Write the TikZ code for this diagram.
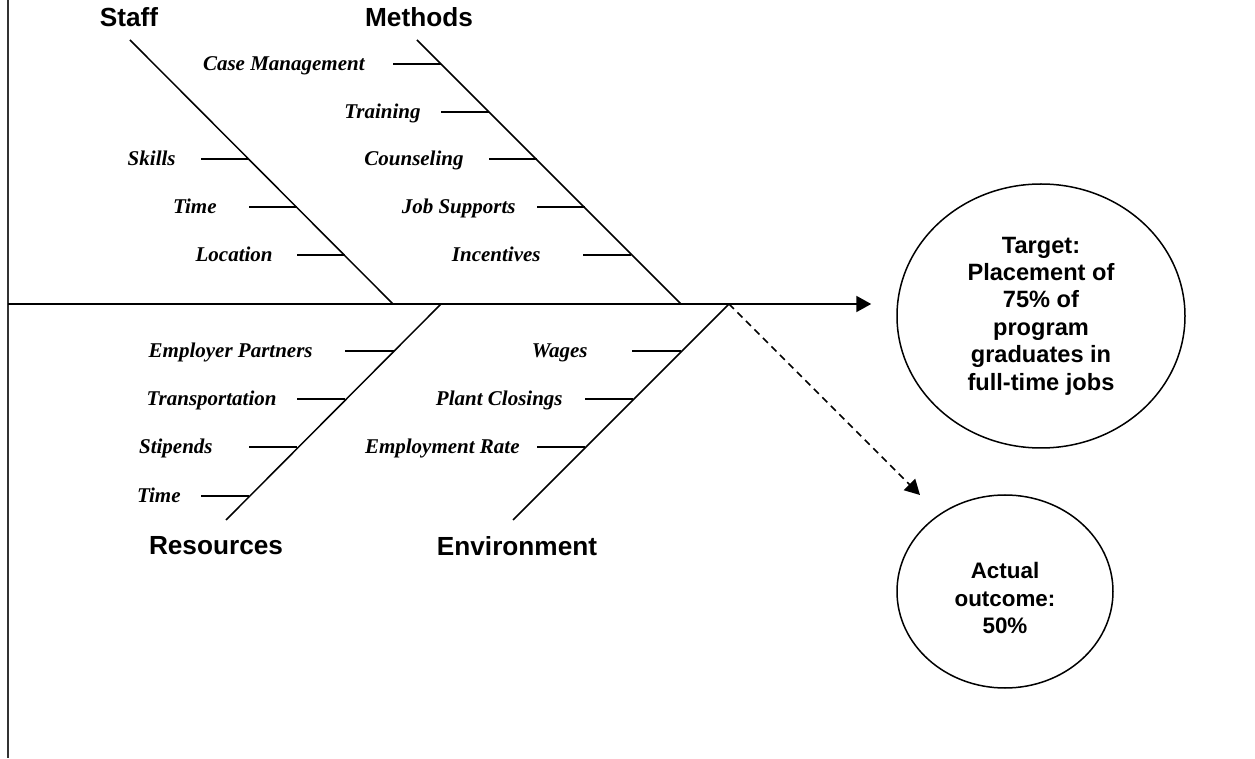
\documentclass[tikz,border=0pt]{standalone}
\usepackage{fontspec}
\setmainfont{Liberation Serif}
\setsansfont{Liberation Sans}
\usetikzlibrary{arrows.meta,shapes.geometric}
\tikzset{
	bone/.style={line width=0.75pt},
	rib/.style={line width=0.8pt},
	cause/.style={anchor=mid east, inner sep=0pt, yshift=-1.1pt, font=\fontsize{10.5}{13}\selectfont\bfseries\itshape},
	category/.style={inner sep=0pt, font=\sffamily\bfseries\fontsize{13.1}{15}\selectfont},
	outcome/.style={ellipse, draw, line width=0.75pt, inner sep=0pt, align=center, font=\sffamily\bfseries\fontsize{11.8}{13.7}\selectfont},
	tip/.style={-{Triangle[length=7.5pt,width=8pt]}}
}

\begin{document}
\begin{tikzpicture}[x=0.5pt, y=-0.5pt]
			%%%%% START %%%%%
			\useasboundingbox (0,0) rectangle (1255,759);
			
			\draw[line width=1.3pt, color=black!80] (8,0) -- (8,758);
			
			% head and spine
			\node[outcome, minimum width=144pt, minimum height=132pt] (target) at (1041,316) {Target:\\Placement of\\75\% of\\program\\graduates in\\full-time jobs};
			\node[outcome, minimum width=108pt, minimum height=96.5pt, font=\sffamily\bfseries\fontsize{11.2}{13.7}\selectfont] (actual) at (1005,591.5) {\rule{0pt}{15pt}Actual\\outcome:\\50\%};
			\coordinate (tail) at (8,304);
			\coordinate (head) at (729,304);
			\coordinate (miss) at (920,495);
			\draw[line width=1pt, tip] (tail) -- ([xshift=-12.5pt]target.west |- tail);
			\draw[line width=0.75pt, dash pattern=on 3.5pt off 2.5pt, tip] (head) -- (miss);
			
			% bones
			\coordinate (staffTop) at (130,40);
			\coordinate (staffEnd) at (393,304);
			\coordinate (methodsTop) at (417,40);
			\coordinate (methodsEnd) at (681,304);
			\coordinate (resourcesEnd) at (441,304);
			\coordinate (resourcesTop) at (226,520);
			\coordinate (environmentTop) at (513,520);
			\draw[bone] (staffTop) -- (staffEnd);
			\draw[bone] (methodsTop) -- (methodsEnd);
			\draw[bone] (resourcesEnd) -- (resourcesTop);
			\draw[bone] (head) -- (environmentTop);
			
			\node[category] (staff) at (129,17) {Staff};
			\node[category] (methods) at (419,17) {Methods};
			\node[category] (resources) at (216,546) {Resources};
			\node[category] (environment) at (517,546) {Environment};
			
			% staff
			\node[cause] (skills) at (176,159) {Skills};
			\draw[rib] (201,159) -- (249,159);
			\node[cause] (stafftime) at (217,207) {Time};
			\draw[rib] (249,207) -- (297,207);
			\node[cause] (location) at (273,255) {Location};
			\draw[rib] (297,255) -- (345,255);
			
			% methods
			\node[cause] (casemgmt) at (365,64) {Case Management};
			\draw[rib] (393,64) -- (441,64);
			\node[cause] (training) at (421,112) {Training};
			\draw[rib] (441,112) -- (489,112);
			\node[cause] (counseling) at (464,159) {Counseling};
			\draw[rib] (489,159) -- (537,159);
			\node[cause] (jobsupports) at (516,207) {Job Supports};
			\draw[rib] (537,207) -- (585,207);
			\node[cause] (incentives) at (541,255) {Incentives};
			\draw[rib] (583,255) -- (631,255);
			
			% resources
			\node[cause] (partners) at (313,351) {Employer Partners};
			\draw[rib] (345,351) -- (394,351);
			\node[cause] (transport) at (277,399) {Transportation};
			\draw[rib] (297,399) -- (345,399);
			\node[cause] (stipends) at (213,447) {Stipends};
			\draw[rib] (249,447) -- (297,447);
			\node[cause] (restime) at (181,496) {Time};
			\draw[rib] (201,496) -- (249,496);
			
			% environment
			\node[cause] (wages) at (588,351) {Wages};
			\draw[rib] (632,351) -- (681,351);
			\node[cause] (closings) at (563,399) {Plant Closings};
			\draw[rib] (585,399) -- (633,399);
			\node[cause] (emprate) at (520,447) {Employment Rate};
			\draw[rib] (537,447) -- (585,447);
			%%%%% END %%%%%
\end{tikzpicture}
\end{document}
